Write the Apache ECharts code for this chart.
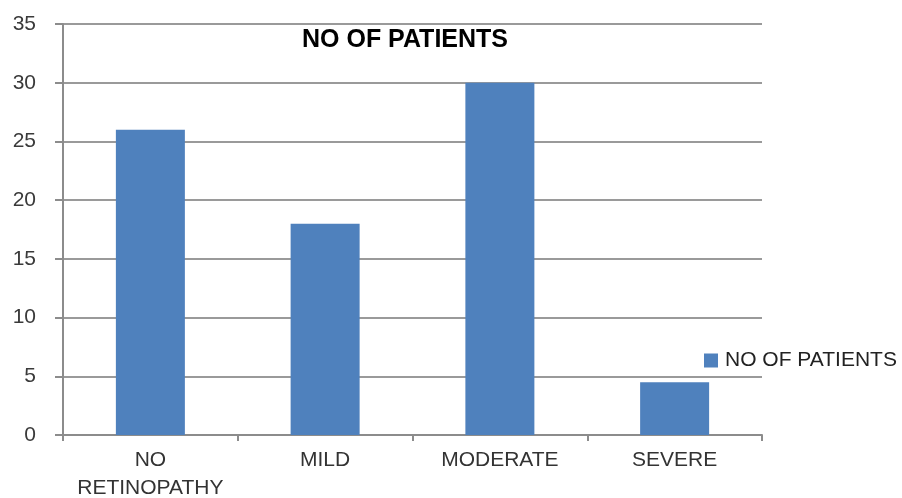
<!DOCTYPE html>
<html>
<head>
<meta charset="utf-8">
<script src="https://cdn.jsdelivr.net/npm/echarts@6/dist/echarts.min.js"></script>
<style>
  html, body { margin: 0; padding: 0; background: #fff; }
  #chart { width: 902px; height: 498px; }
</style>
</head>
<body>
<div id="chart"></div>
<script>
// Retinopathy grade categories and patient counts
const categories = ['NO RETINOPATHY', 'MILD', 'MODERATE', 'SEVERE'];
const patients = [26, 18, 30, 4.5];
const seriesName = 'NO OF PATIENTS';
const yTicks = { min: 0, max: 35, interval: 5 };

const chart = echarts.init(document.getElementById('chart'), null, { renderer: 'canvas' });

const labelFont = '"Liberation Sans", "DejaVu Sans", sans-serif';

chart.setOption({
  animation: false,
  backgroundColor: '#ffffff',
  title: {
    text: seriesName,
    left: 400,
    top: 23,
    textAlign: 'center',
    textStyle: { fontFamily: labelFont, fontWeight: 'bold', fontSize: 25, color: '#000' }
  },
  legend: {
    data: [seriesName],
    left: 704,
    top: 350,
    padding: 0,
    icon: 'rect',
    itemWidth: 14,
    itemHeight: 14,
    itemGap: 6,
    textStyle: { fontFamily: labelFont, fontSize: 21, color: '#222', padding: [0, 0, 0, 2] }
  },
  grid: { left: 63, right: 140, top: 24, bottom: 63, containLabel: false, outerBoundsMode: 'none' },
  xAxis: {
    type: 'category',
    data: categories,
    axisLine: { show: true, lineStyle: { color: '#8c8c8c', width: 2 } },
    axisTick: { show: true, length: 6, alignWithLabel: false, lineStyle: { color: '#8c8c8c', width: 2 } },
    axisLabel: {
      interval: 0,
      formatter: v => v.replace(' ', '\n'),
      fontFamily: labelFont,
      fontSize: 21,
      color: '#333',
      lineHeight: 28,
      margin: 11
    }
  },
  yAxis: {
    type: 'value',
    min: yTicks.min,
    max: yTicks.max,
    interval: yTicks.interval,
    axisLine: { show: true, lineStyle: { color: '#8c8c8c', width: 2 } },
    axisTick: { show: true, length: 8, lineStyle: { color: '#8c8c8c', width: 2 } },
    axisLabel: { fontFamily: labelFont, fontSize: 21, color: '#3a3a3a', margin: 27 },
    splitLine: { show: true, lineStyle: { color: '#9a9a9a', width: 2 } }
  },
  series: [{
    name: seriesName,
    type: 'bar',
    data: patients,
    barWidth: 69,
    itemStyle: { color: '#4f81bd' }
  }]
});
</script>
</body>
</html>
